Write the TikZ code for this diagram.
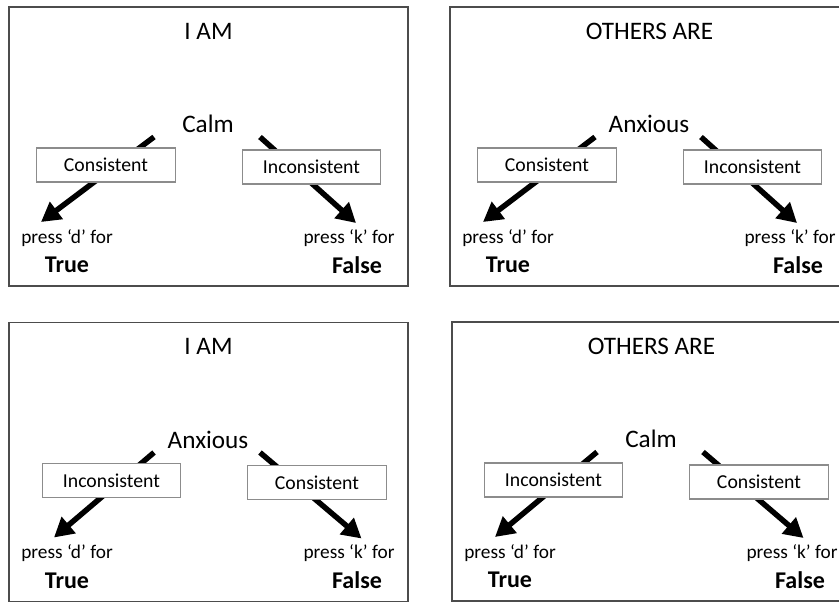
\documentclass[tikz,border=0pt]{standalone}
\usepackage{fontspec}
\setmainfont{Carlito}
\usetikzlibrary{arrows.meta}
\tikzset{
  panelbox/.style={draw=black!70, line width=1.1pt},
  labelbox/.style={draw=black!45, fill=white, line width=0.8pt, minimum width=104pt, minimum height=25.5pt, inner sep=0pt, font=\fontsize{14.8}{17}\selectfont},
  headtext/.style={font=\fontsize{18.9}{22}\selectfont, inner sep=0pt},
  presstext/.style={font=\fontsize{14.5}{17}\selectfont, inner sep=0pt},
  answertext/.style={font=\bfseries\fontsize{18}{21}\selectfont, inner sep=0pt},
  bigarrow/.style={line width=4.1pt, -{Triangle[length=14.5pt,width=15.5pt]}, black},
}
\newcommand\quadpanel[9]{%
  \begin{scope}[shift={(#2,#3)}]
    \draw[panelbox] (0,0) rectangle (399,279);
    \node[headtext] (#1-title) at (199.5,24) {#4};
    \node[headtext] (#1-word) at (199,117) {#5};
    \coordinate (#1-ls) at (145,130);
    \coordinate (#1-lt) at (#9,215);
    \coordinate (#1-rs) at (251,130);
    \coordinate (#1-rt) at (347+#8,216);
    \draw[bigarrow] (#1-ls) -- (#1-lt);
    \draw[bigarrow] (#1-rs) -- (#1-rt);
    \node[labelbox] (#1-lbox) at (97+#8,158) {#6};
    \node[labelbox] (#1-rbox) at (302.5+#8,160) {#7};
    \node[presstext] (#1-pd) at (58,231) {press ‘d’ for};
    \node[answertext] (#1-true) at (58,258) {True};
    \node[presstext] (#1-pk) at (340,231) {press ‘k’ for};
    \node[answertext] (#1-false) at (348,258) {False};
  \end{scope}}
\begin{document}
\begin{tikzpicture}[x=0.75pt, y=-0.75pt]
  \useasboundingbox (0,0) rectangle (839,602);
  \clip (0,0) rectangle (839,602);
  \fill[white] (0,0) rectangle (839,602);
  \quadpanel{a}{9}{7}{I AM}{Calm}{Consistent}{Inconsistent}{0}{32}
  \quadpanel{b}{450}{7}{OTHERS ARE}{Anxious}{Consistent}{Inconsistent}{0}{33}
  \quadpanel{c}{9}{322.5}{I AM}{Anxious}{Inconsistent}{Consistent}{5.5}{45}
  \quadpanel{d}{452}{322}{OTHERS ARE}{Calm}{Inconsistent}{Consistent}{4.5}{43}
\end{tikzpicture}
\end{document}
